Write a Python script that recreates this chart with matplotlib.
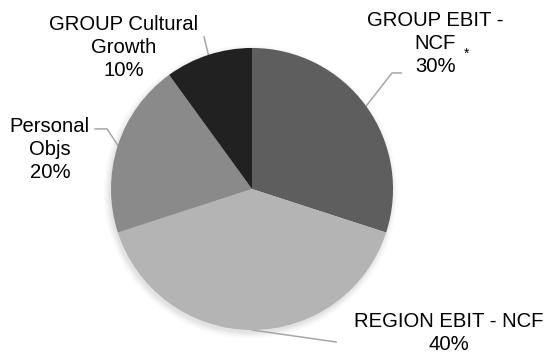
import numpy as np
import matplotlib
matplotlib.use("Agg")
import matplotlib.pyplot as plt

# Slice data (clockwise from 12 o'clock)
labels = ["GROUP EBIT -\nNCF\n30%", "REGION EBIT - NCF\n40%",
          "Personal\nObjs\n20%", "GROUP Cultural\nGrowth\n10%"]
values = [30, 40, 20, 10]
colors = ["#5e5e5e", "#b4b4b4", "#8a8a8a", "#212121"]

# label anchors (centre x, last baseline) and leader line routes (data units, radius = 1)
label_pos = [(1.301, 0.830), (1.397, -1.14), (-1.433, 0.078), (-0.911, 0.801)]
leader_pts = [
    [(0.993, 0.823), (1.057, 0.823)],
    [(0.596, -1.085)],
    [(-1.028, 0.426), (-1.113, 0.426)],
    [(-0.340, 1.078)],
]

plt.rcParams['font.family'] = ['Liberation Sans', 'DejaVu Sans']

fig = plt.figure(figsize=(5.48, 3.54), dpi=100)
ax = fig.add_axes([0, 0, 1, 1])

# soft shadow under the pie
for i, a in enumerate([0.02, 0.025, 0.03, 0.035]):
    ax.add_patch(plt.Circle((-0.01, -0.02), 1.04 - i * 0.012, color="black",
                            alpha=a, lw=0, zorder=0))

wedges, _ = ax.pie(values, colors=colors, startangle=90, counterclock=False,
                   radius=1, wedgeprops=dict(linewidth=0))
for w in wedges:
    w.set_zorder(2)

for w, lab, pos, pts in zip(wedges, labels, label_pos, leader_pts):
    mid = np.deg2rad((w.theta1 + w.theta2) / 2)
    xs = [np.cos(mid)] + [p[0] for p in pts]
    ys = [np.sin(mid)] + [p[1] for p in pts]
    ax.plot(xs, ys, color="#a6a6a6", lw=1.1, zorder=1)
    ax.text(pos[0], pos[1], lab, ha="center", va="baseline", fontsize=14.6,
            color="black", linespacing=1.28)

ax.text(1.52, 0.958, "*", ha="center", va="center", fontsize=10, color="black")

ax.set_xlim(-1.787, 2.099)
ax.set_ylim(-1.170, 1.340)
ax.set_aspect("equal")
ax.axis("off")

fig.savefig("out.png", dpi=100)
